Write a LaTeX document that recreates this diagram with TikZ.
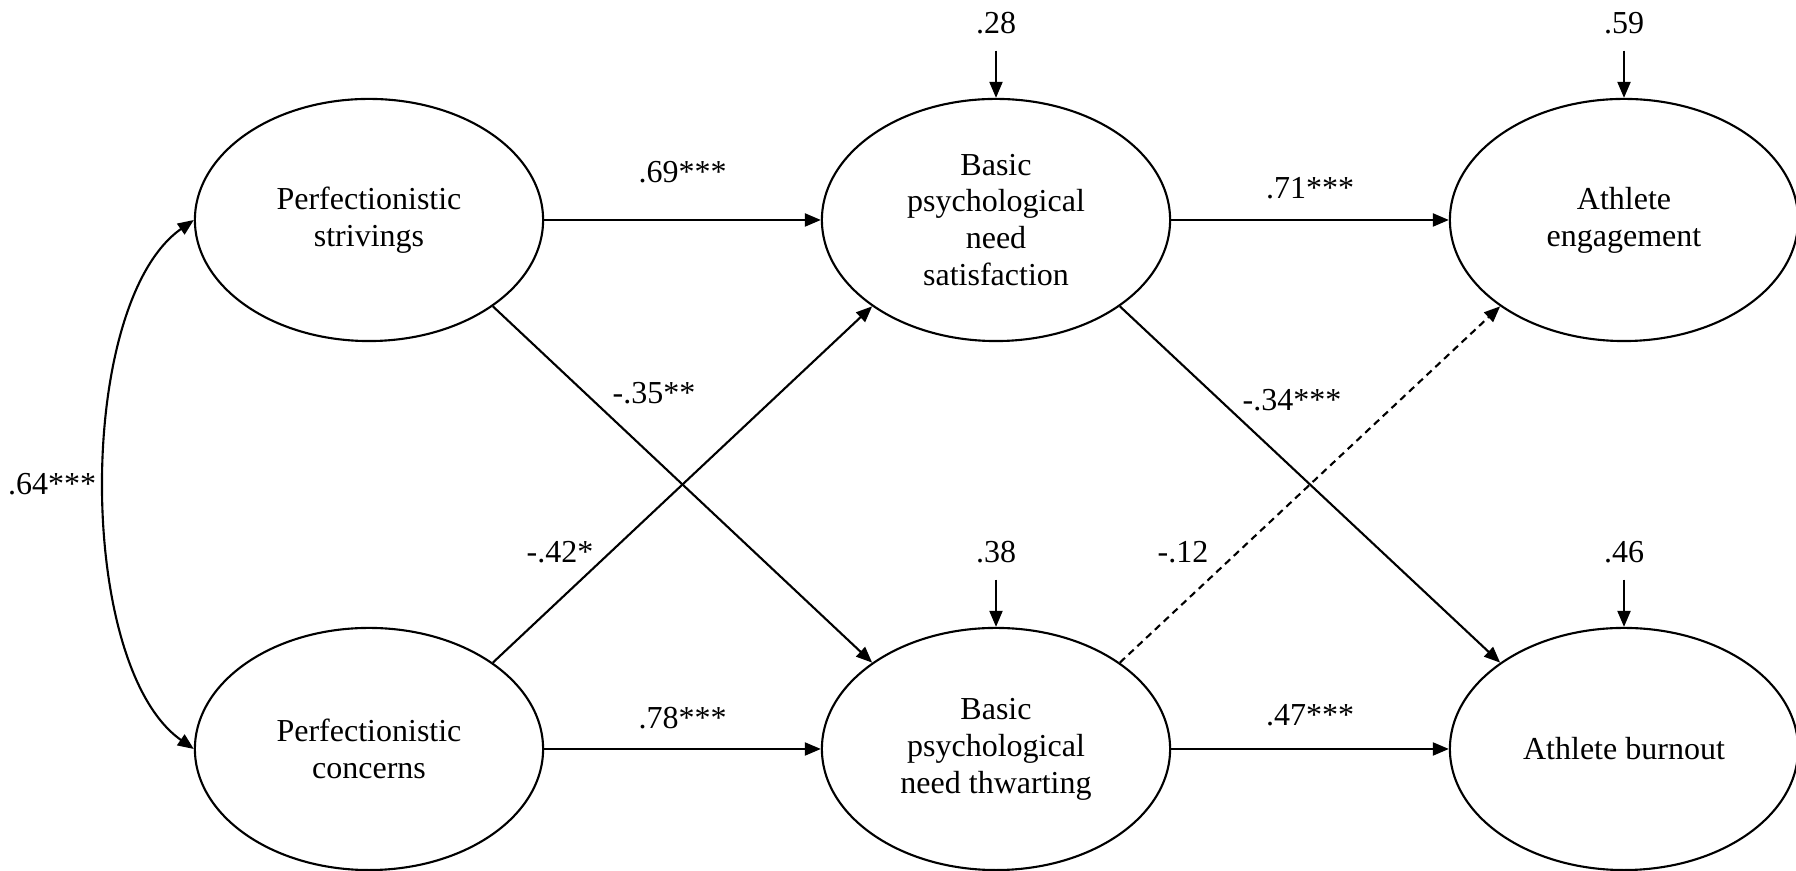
\documentclass[tikz,border=0pt]{standalone}
\usepackage{fontspec}
\setmainfont{Liberation Serif}
\usetikzlibrary{positioning, arrows.meta, shapes.geometric}

\begin{document}
\begin{tikzpicture}[x=0.01cm, y=-0.01cm,
  every node/.style={font=\fontsize{9.1pt}{10.5pt}\selectfont},
  latent/.style={ellipse, draw, line width=0.6pt, minimum width=3.48cm, minimum height=2.42cm, inner sep=0pt, align=center},
  effect/.style={-{Triangle[length=0.16cm, width=0.13cm]}, line width=0.6pt},
  lab/.style={inner sep=0pt}]
\useasboundingbox (0,0) rectangle (1796,871);

% Define the nodes
\node[latent] (ps) at (369,220) {Perfectionistic\\strivings};
\node[latent] (pc) at (369,749) {Perfectionistic\\concerns};
\node[latent] (bpns) at (996,220) {Basic\\psychological\\need\\satisfaction};
\node[latent] (bpnt) at (996,749) {Basic\\psychological\\need thwarting};
\node[latent] (eng) at (1624,220) {Athlete\\engagement};
\node[latent] (burn) at (1624,749) {Athlete burnout};

% Residuals
\node[lab] (rsat) at (996,23) {.28};
\node[lab] (rthw) at (996,552) {.38};
\node[lab] (reng) at (1624,23) {.59};
\node[lab] (rburn) at (1624,552) {.46};

% Labels of the cross paths
\node[lab] (l35) at (654,393) {-.35**};
\node[lab] (l42) at (560,552) {-.42*};
\node[lab] (l34) at (1292,400) {-.34***};
\node[lab] (l12) at (1183,552) {-.12};

% Draw the paths
\draw[effect] (ps) -- node[lab, above=0.36cm] (l69) {.69***} (bpns);
\draw[effect] (pc) -- node[lab, above=0.19cm] (l78) {.78***} (bpnt);
\draw[effect] (bpns) -- node[lab, above=0.2cm] (l71) {.71***} (eng);
\draw[effect] (bpnt) -- node[lab, above=0.22cm] (l47) {.47***} (burn);
\draw[effect] (ps.south east) -- (bpnt.north west);
\draw[effect] (pc.north east) -- (bpns.south west);
\draw[effect] (bpns.south east) -- (burn.north west);
\draw[effect, dash pattern=on 0.07cm off 0.05cm] (bpnt.north east) -- (eng.south west);
\draw[effect, {Triangle[length=0.16cm, width=0.13cm]}-{Triangle[length=0.16cm, width=0.13cm]}]
  (ps.west) to[out=-145, in=145, looseness=0.7] node[lab, left=0.08cm] (l64) {.64***} (pc.west);

% Residual arrows
\draw[effect, shorten <=0.16cm] (rsat) -- (bpns);
\draw[effect, shorten <=0.16cm] (rthw) -- (bpnt);
\draw[effect, shorten <=0.16cm] (reng) -- (eng);
\draw[effect, shorten <=0.16cm] (rburn) -- (burn);
\end{tikzpicture}
\end{document}
